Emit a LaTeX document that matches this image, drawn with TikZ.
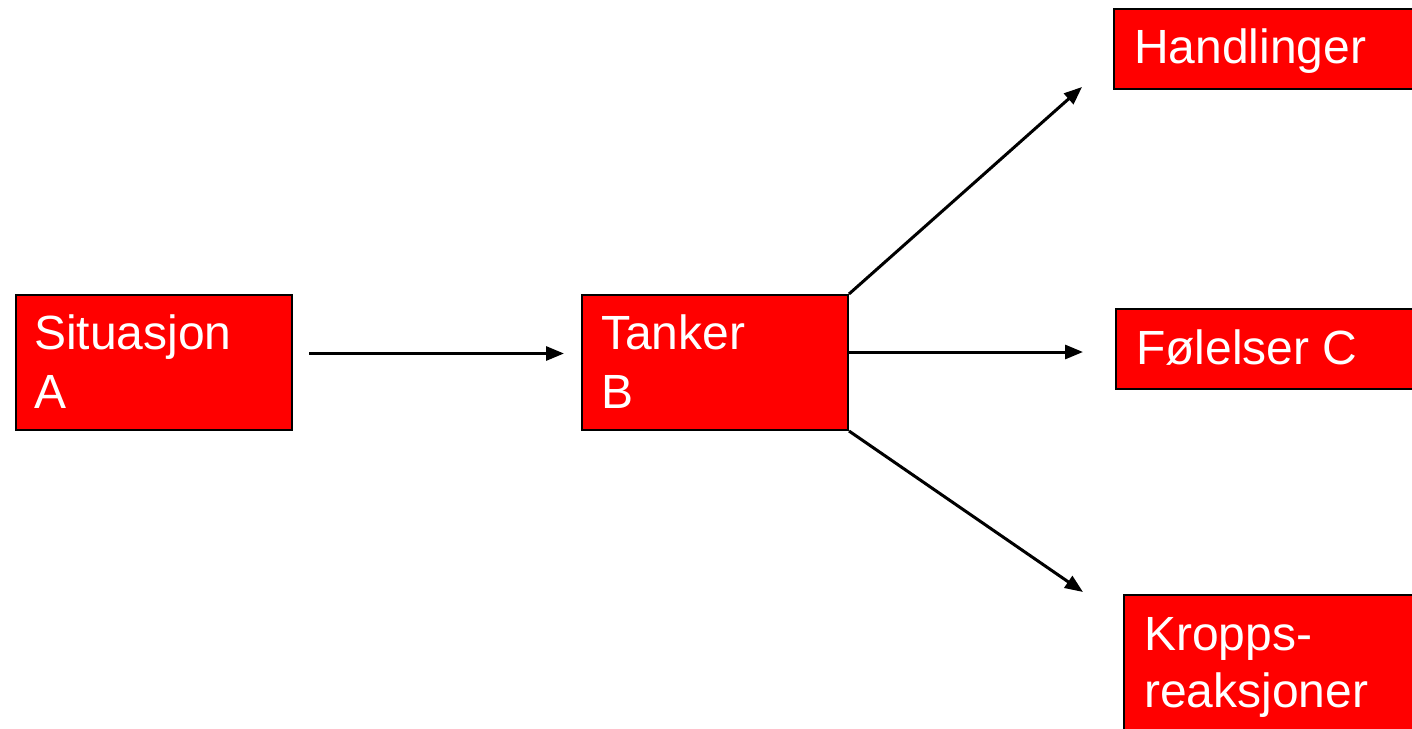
\documentclass[tikz,border=0pt]{standalone}
\usepackage{fontspec}
\setmainfont{Liberation Sans}
\usetikzlibrary{arrows.meta}
\definecolor{boxred}{RGB}{255,0,0}
\tikzset{
  box/.style={draw=black, line width=2pt, fill=boxred, inner sep=0pt, anchor=north west},
  boxtext/.style={anchor=base west, inner sep=0pt, text=white, font=\fontsize{48}{58}\selectfont},
  flow/.style={line width=3pt, -{Triangle[length=18pt,width=14pt]}}
}
\begin{document}
\begin{tikzpicture}[x=1pt,y=-1pt]
\useasboundingbox[fill=white] (0,0) rectangle (1412,728);

% boxes
\node[box, minimum width=276pt, minimum height=135pt] (A) at (15,294) {};
\node[box, minimum width=266pt, minimum height=135pt] (B) at (581,294) {};
\node[box, minimum width=320pt, minimum height=80pt] (H) at (1113,8) {};
\node[box, minimum width=320pt, minimum height=80pt] (F) at (1115,308) {};
\node[box, minimum width=320pt, minimum height=160pt] (K) at (1123,594) {};

% labels
\node[boxtext] (a1) at (34,349) {Situasjon};
\node[boxtext] (a2) at (34,408) {A};
\node[boxtext] (b1) at (601,349) {Tanker};
\node[boxtext] (b2) at (601,408) {B};
\node[boxtext] (h1) at (1134,63) {Handlinger};
\node[boxtext] (f1) at (1136,364) {Følelser C};
\node[boxtext] (k1) at (1144,650) {Kropps-};
\node[boxtext] (k2) at (1144,707) {reaksjoner};

% arrow tips
\coordinate (tipH) at (1082,87);
\coordinate (startF) at (847,352);
\coordinate (tipF) at (1083,352);
\coordinate (tipK) at (1083,592);

% connectors
\draw[flow] ([xshift=16pt,yshift=9pt]A.east) -- ([xshift=-17pt,yshift=9pt]B.west);
\draw[flow] (B.north east) -- (tipH);
\draw[flow] (startF) -- (tipF);
\draw[flow] (B.south east) -- (tipK);
\end{tikzpicture}
\end{document}
